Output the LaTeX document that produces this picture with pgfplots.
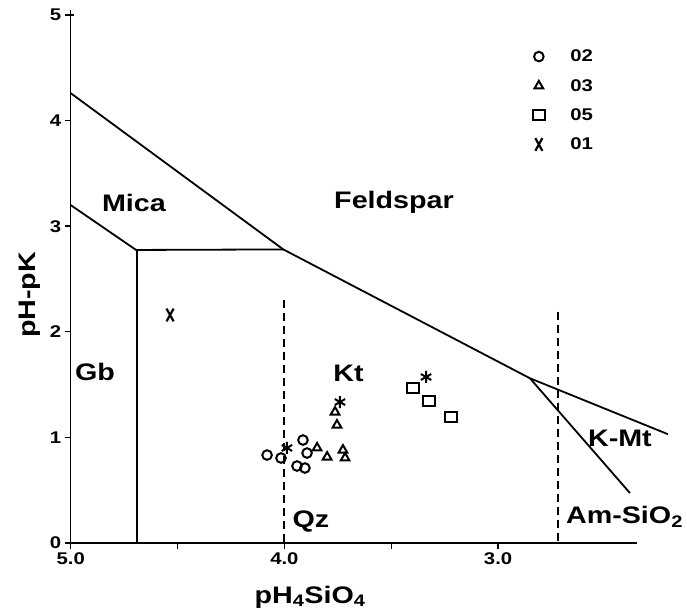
\documentclass[border=0pt]{standalone}
\usepackage{fontspec}
\setmainfont{Liberation Sans}[FakeStretch=1.2]
\usepackage{pgfplots}
\pgfplotsset{compat=1.18}
\tikzset{lbl/.style={font=\bfseries\fontsize{24}{28}\selectfont, inner sep=0pt}}
\pgfplotsset{
  lg/.style={legend image code/.code={\path[draw=none] (0bp,0bp) -- (38bp,0bp);\draw[##1] plot coordinates {(8.5bp,0bp)};}},
}
\begin{document}
\begin{tikzpicture}
\path (0,0) rectangle (687bp,611bp);
\begin{axis}[
  at={(70.7bp,68bp)}, anchor=south west,
  scale only axis, width=566.3bp, height=528bp,
  x dir=reverse, xmin=2.35, xmax=5.0, ymin=0, ymax=5,
  clip=false,
  axis lines*=left,
  axis line style={line width=1.6bp, -},
  xtick={5,4,3}, xticklabels={5.0,4.0,3.0},
  minor xtick={4.5,3.5},
  ytick={0,1,2,3,4,5}, yticklabels={0,1,2,3,4,5},
  tick align=outside, major tick length=6bp, minor tick length=6bp,
  tick style={black, line width=1.4bp},
  ticklabel style={font=\bfseries\fontsize{17}{20}\selectfont},
  legend style={draw=none, fill=none, at={(axis cs:2.85,4.69)}, anchor=north west,
    font=\bfseries\fontsize{17}{20}\selectfont, row sep=12bp, inner sep=0pt},
  legend cell align=left,
]
% data points
\addplot[only marks, mark=o, mark size=4.8bp, mark options={line width=2bp}, lg] coordinates {
 (4.081,0.833) (4.016,0.805) (3.913,0.975) (3.894,0.852) (3.941,0.729) (3.904,0.710)};
\addlegendentry{02}
\addplot[only marks, mark=triangle, mark size=5bp, mark options={line width=2bp}, lg] coordinates {
 (3.847,0.90) (3.800,0.814) (3.726,0.88) (3.716,0.805) (3.754,1.117) (3.763,1.24)};
\addlegendentry{03}
\addplot[only marks, mark=square, mark size=5bp, mark options={line width=2bp, xscale=1.25}, lg] coordinates {
 (3.398,1.468) (3.323,1.345) (3.220,1.193)};
\addlegendentry{05}
\addplot[only marks, mark=x, mark size=5bp, mark options={line width=2.2bp, yscale=1.8}, lg] coordinates {
 (4.535,2.159)};
\addlegendentry{01}
\addplot[only marks, mark=asterisk, mark size=6bp, mark options={line width=2bp}, forget plot] coordinates {
 (3.988,0.90) (3.740,1.335) (3.337,1.572)};
% axis frame (left and bottom) and tick marks
\addplot[black, line width=1.6bp, forget plot] coordinates {(5.0,5.05) (5.0,0) (2.35,0)};
\addplot[black, line width=1.4bp, forget plot, unbounded coords=jump] coordinates {
 (5,0) (5,-0.057) (5,nan)
 (4.5,0) (4.5,-0.057) (4.5,nan)
 (4,0) (4,-0.057) (4,nan)
 (3.5,0) (3.5,-0.057) (3.5,nan)
 (3,0) (3,-0.057) (3,nan)
 (5,1) (5.028,1) (5,nan)
 (5,2) (5.028,2) (5,nan)
 (5,3) (5.028,3) (5,nan)
 (5,4) (5.028,4) (5,nan)
 (5.028,5) (4.985,5)};
% boundaries
\addplot[black, line width=1.8bp, forget plot] coordinates {(5.0,4.26) (4.005,2.78) (2.851,1.56) (2.205,1.03)};
\addplot[black, line width=1.8bp, forget plot] coordinates {(2.851,1.56) (2.383,0.473)};
\addplot[black, line width=1.8bp, forget plot] coordinates {(5.0,3.20) (4.694,2.775) (4.005,2.78)};
\addplot[black, line width=1.8bp, forget plot] coordinates {(4.69,2.775) (4.69,0)};
\addplot[black, line width=1.8bp, dash pattern=on 8bp off 5bp, forget plot] coordinates {(4.0,2.30) (4.0,0)};
\addplot[black, line width=1.8bp, dash pattern=on 8bp off 5bp, forget plot] coordinates {(2.72,2.19) (2.72,0)};
% region labels
\node[lbl] at (axis cs:4.704,3.22) {Mica};
\node[lbl] at (axis cs:3.487,3.23) {Feldspar};
\node[lbl] at (axis cs:4.886,1.62) {Gb};
\node[lbl] at (axis cs:3.70,1.61) {Kt};
\node[lbl] at (axis cs:3.876,0.20) {Qz};
\node[lbl] at (axis cs:2.43,0.99) {K-Mt};
\node[lbl, anchor=west] at (axis cs:2.683,0.25) {Am-SiO\textsubscript{2}};
% axis titles
\node[lbl] at (rel axis cs:0.4226,-0.1023) {pH\textsubscript{4}SiO\textsubscript{4}};
\node[lbl, rotate=90] at (rel axis cs:-0.0719,0.47) {pH-pK};
\end{axis}
\end{tikzpicture}
\end{document}
